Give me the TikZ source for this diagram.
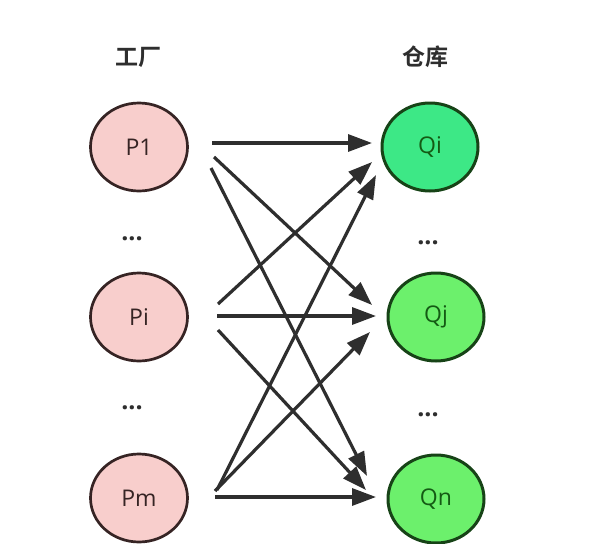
\documentclass[tikz,border=0pt]{standalone}
\usepackage{fontspec}
\setmainfont{Open Sans}
\newfontfamily\cjk{Noto Sans CJK SC}[BoldFont={Noto Sans CJK SC Bold}]
\usetikzlibrary{arrows.meta,shapes.geometric}
\definecolor{pfill}{HTML}{F8CECC}
\definecolor{pline}{HTML}{362424}
\definecolor{qfillA}{HTML}{3DE886}
\definecolor{qfillB}{HTML}{6CF06C}
\definecolor{qline}{HTML}{174317}
\definecolor{qtext}{HTML}{145A14}
\definecolor{arr}{HTML}{2E2E2E}
\begin{document}
\begin{tikzpicture}[x=1pt,y=-1pt,
  pnode/.style={ellipse,draw=pline,line width=2.7pt,fill=pfill,minimum width=97pt,minimum height=88pt,inner sep=0pt,text=pline,font=\fontsize{23}{26}\selectfont},
  qnode/.style={ellipse,draw=qline,line width=3pt,minimum width=96pt,minimum height=88pt,inner sep=0pt,text=qtext,font=\fontsize{23}{26}\selectfont},
  title/.style={text=arr,font=\cjk\bfseries\fontsize{23}{26}\selectfont},
  dots/.style={text=arr,font=\bfseries\fontsize{25}{28}\selectfont},
  link/.style={draw=arr,line width=3.2pt,-{Triangle[length=24pt,width=17pt]}}]
\useasboundingbox (0,0) rectangle (606,544);
\fill[white] (0,0) rectangle (606,544);
\node[title] (tf) at (138,57) {工厂};
\node[title] (tw) at (425,57) {仓库};
\node[pnode] (p1) at (139,147) {P1};
\node[pnode] (pi) at (139,317) {Pi};
\node[pnode] (pm) at (139,498) {Pm};
\node[qnode,fill=qfillA] (qi) at (430,147) {Qi};
\node[qnode,fill=qfillB] (qj) at (436,317) {Qj};
\node[qnode,fill=qfillB] (qn) at (436,499) {Qn};
\node[dots] (d1) at (132,239) {...};
\node[dots] (d2) at (132,408) {...};
\node[dots] (d3) at (428,243) {...};
\node[dots] (d4) at (428,415) {...};
% start points
\coordinate (s11) at (212,143);
\coordinate (s12) at (214,157);
\coordinate (s13) at (211,168);
\coordinate (s21) at (218,304);
\coordinate (s22) at (217,316);
\coordinate (s23) at (218,330);
\coordinate (s31) at (217,490);
\coordinate (s32) at (215,491);
\coordinate (s33) at (215,497);
% end points
\coordinate (e11) at (372,143);
\coordinate (e12) at (372,305);
\coordinate (e13) at (367,476);
\coordinate (e21) at (372,162);
\coordinate (e22) at (376,316);
\coordinate (e23) at (366,490);
\coordinate (e31) at (376,175);
\coordinate (e32) at (370,332);
\coordinate (e33) at (376,497);
\foreach \a in {11,12,13,21,22,23,31,32,33}{
  \draw[link] (s\a) -- (e\a);
}
\end{tikzpicture}
\end{document}
